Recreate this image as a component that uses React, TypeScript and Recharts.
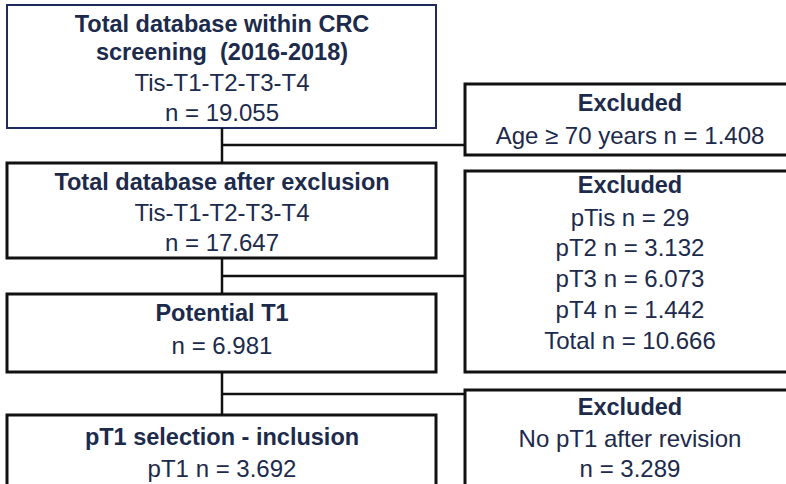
import { ComposedChart, XAxis, YAxis, Scatter, ReferenceArea, ReferenceLine } from 'recharts';

const W = 786;
const H = 484;

// box outlines (in picture units: x to the right, y downwards)
const leftBoxes = [
  { id: 'total', x1: 7, x2: 436, y1: 5, y2: 128 },
  { id: 'after', x1: 7, x2: 436, y1: 163, y2: 258 },
  { id: 'potential', x1: 7, x2: 436, y1: 294, y2: 372 },
  { id: 'pt1', x1: 7, x2: 436, y1: 415, y2: 500 },
];

const rightBoxes = [
  { id: 'exAge', x1: 465, x2: 800, y1: 84, y2: 155 },
  { id: 'exStage', x1: 465, x2: 800, y1: 171, y2: 372 },
  { id: 'exRevision', x1: 465, x2: 800, y1: 390, y2: 500 },
];

// connector spine and branches
const spineX = 222;
const spines = [
  { from: 128, to: 163 },
  { from: 258, to: 294 },
  { from: 372, to: 415 },
];
const branches = [145, 276, 394];
const branchEnd = 465;

// text lines
const leftLines = [
  { x: 222, y: 24, text: 'Total database within CRC', bold: true },
  { x: 222, y: 52, text: 'screening \u00a0(2016-2018)', bold: true },
  { x: 222, y: 82, text: 'Tis-T1-T2-T3-T4', bold: false },
  { x: 222, y: 112, text: 'n = 19.055', bold: false },
  { x: 222, y: 182, text: 'Total database after exclusion', bold: true },
  { x: 222, y: 212, text: 'Tis-T1-T2-T3-T4', bold: false },
  { x: 222, y: 242, text: 'n = 17.647', bold: false },
  { x: 222, y: 313, text: 'Potential T1', bold: true },
  { x: 222, y: 345, text: 'n = 6.981', bold: false },
  { x: 222, y: 437, text: 'pT1 selection - inclusion', bold: true },
  { x: 222, y: 468, text: 'pT1 n = 3.692', bold: false },
];

const rightLines = [
  { x: 630, y: 103, text: 'Excluded', bold: true },
  { x: 630, y: 135, text: 'Age ≥ 70 years n = 1.408', bold: false },
  { x: 630, y: 185, text: 'Excluded', bold: true },
  { x: 630, y: 217, text: 'pTis n = 29', bold: false },
  { x: 630, y: 247, text: 'pT2 n = 3.132', bold: false },
  { x: 630, y: 278, text: 'pT3 n = 6.073', bold: false },
  { x: 630, y: 309, text: 'pT4 n = 1.442', bold: false },
  { x: 630, y: 340, text: 'Total n = 10.666', bold: false },
  { x: 630, y: 407, text: 'Excluded', bold: true },
  { x: 630, y: 438, text: 'No pT1 after revision', bold: false },
  { x: 630, y: 468, text: 'n = 3.289', bold: false },
];

const TextMark = (props: any) => {
  const { cx, cy, payload } = props;
  return (
    <text
      x={cx}
      y={cy}
      textAnchor="middle"
      dominantBaseline="central"
      fontFamily="'Liberation Sans', Arial, sans-serif"
      fontSize={payload.bold ? 23.5 : 24}
      fontWeight={payload.bold ? 700 : 400}
      fill="#1c2a4c"
    >
      {payload.text}
    </text>
  );
};

export default function App() {
  return (
    <div style={{ background: '#fff' }}>
      <style>{'body{margin:0}'}</style>
      <ComposedChart width={W} height={H} margin={{ top: 0, right: 0, bottom: 0, left: 0 }}>
        <XAxis type="number" dataKey="x" domain={[0, W]} hide allowDataOverflow />
        <YAxis type="number" dataKey="y" domain={[0, H]} reversed hide allowDataOverflow />
        {leftBoxes.map((b, i) => (
          <ReferenceArea
            key={b.id}
            x1={b.x1}
            x2={b.x2}
            y1={b.y1}
            y2={b.y2}
            ifOverflow="visible"
            fill="none"
            fillOpacity={0}
            stroke={i === 0 ? '#1f2a5e' : '#111'}
            strokeWidth={i === 0 ? 2 : 3}
          />
        ))}
        {rightBoxes.map((b) => (
          <ReferenceArea
            key={b.id}
            x1={b.x1}
            x2={b.x2}
            y1={b.y1}
            y2={b.y2}
            ifOverflow="visible"
            fill="none"
            fillOpacity={0}
            stroke="#111"
            strokeWidth={3}
          />
        ))}
        {spines.map((s) => (
          <ReferenceLine
            key={'s' + s.from}
            segment={[{ x: spineX, y: s.from }, { x: spineX, y: s.to }]}
            stroke="#111"
            strokeWidth={2.5}
            ifOverflow="visible"
          />
        ))}
        {branches.map((y) => (
          <ReferenceLine
            key={'b' + y}
            segment={[{ x: spineX, y }, { x: branchEnd, y }]}
            stroke="#111"
            strokeWidth={2.5}
            ifOverflow="visible"
          />
        ))}
        <Scatter data={leftLines} shape={TextMark} isAnimationActive={false} />
        <Scatter data={rightLines} shape={TextMark} isAnimationActive={false} />
      </ComposedChart>
    </div>
  );
}
